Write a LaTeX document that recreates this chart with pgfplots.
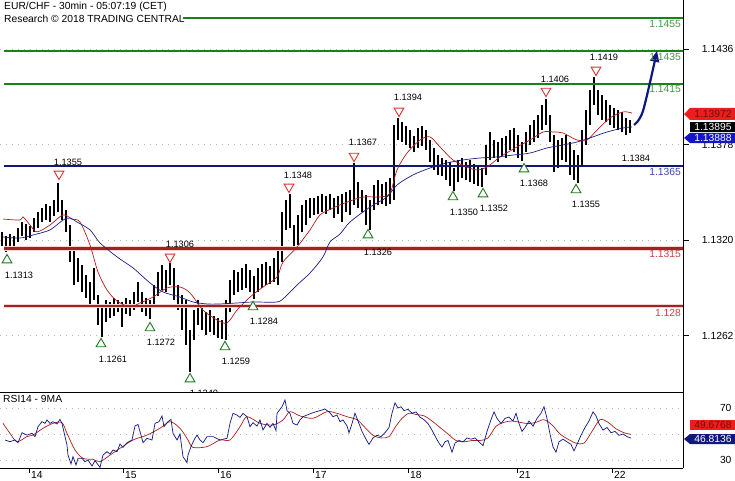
\documentclass[border=0pt]{standalone}
\usepackage{fontspec}
\setmainfont{Liberation Sans}
\usepackage{pgfplots}
\usepackage{pgfplotstable}
\pgfplotsset{compat=1.18}
\usetikzlibrary{arrows.meta}
\definecolor{grn}{RGB}{24,130,24}
\definecolor{grnlbl}{RGB}{70,150,70}
\definecolor{nvy}{RGB}{16,24,128}
\definecolor{nvylbl}{RGB}{60,70,175}
\definecolor{dred}{RGB}{160,35,35}
\definecolor{pinkh}{RGB}{247,212,212}
\definecolor{redlbl}{RGB}{200,70,70}
\definecolor{mared}{RGB}{175,30,30}
\definecolor{mablue}{RGB}{30,30,130}
\definecolor{trir}{RGB}{215,50,50}
\definecolor{trig}{RGB}{30,120,30}
\definecolor{tagred}{RGB}{235,30,30}
\definecolor{tagtxt}{RGB}{120,10,10}
\definecolor{tagblue}{RGB}{20,20,200}
\newcommand{\fa}{\fontsize{10.3}{12}\selectfont}
\newcommand{\fb}{\fontsize{9.2}{11}\selectfont}

\pgfplotstableread{
x h l
2 1.13250 1.13164
6 1.13225 1.13128
10 1.13237 1.13164
14 1.13225 1.13152
18 1.13274 1.13189
22 1.13310 1.13225
26 1.13298 1.13201
30 1.13286 1.13213
34 1.13334 1.13250
38 1.13371 1.13274
42 1.13395 1.13310
46 1.13420 1.13322
50 1.13407 1.13310
54 1.13444 1.13347
58 1.13550 1.13371
62 1.13444 1.13322
66 1.13383 1.13250
70 1.13292 1.13067
74 1.13140 1.12927
78 1.13091 1.12946
82 1.13049 1.12885
86 1.12988 1.12848
90 1.12946 1.12806
94 1.13031 1.12836
98 1.12867 1.12684
102 1.12806 1.12610
106 1.12836 1.12703
110 1.12824 1.12727
114 1.12848 1.12739
118 1.12836 1.12763
122 1.12824 1.12672
126 1.12848 1.12751
130 1.12836 1.12739
134 1.12885 1.12775
138 1.12946 1.12824
142 1.12885 1.12763
146 1.12848 1.12739
150 1.12836 1.12720
154 1.12927 1.12806
158 1.13006 1.12861
162 1.13049 1.12897
166 1.13018 1.12885
170 1.13060 1.12927
174 1.13031 1.12836
178 1.12927 1.12775
182 1.12867 1.12654
186 1.12836 1.12563
190 1.12654 1.12400
194 1.12775 1.12593
198 1.12836 1.12684
202 1.12806 1.12654
206 1.12763 1.12624
210 1.12775 1.12642
214 1.12739 1.12624
218 1.12727 1.12605
222 1.12715 1.12600
226 1.12836 1.12590
230 1.12958 1.12763
234 1.13018 1.12867
238 1.13006 1.12885
242 1.13031 1.12897
246 1.13055 1.12909
250 1.13018 1.12885
254 1.12982 1.12840
258 1.13031 1.12885
262 1.13055 1.12909
266 1.13067 1.12927
270 1.13043 1.12934
274 1.13091 1.12946
278 1.13140 1.12927
282 1.13371 1.13067
286 1.13444 1.13262
290 1.13480 1.13274
294 1.13292 1.13140
298 1.13353 1.13170
302 1.13413 1.13250
306 1.13444 1.13292
310 1.13456 1.13334
314 1.13456 1.13353
318 1.13468 1.13359
322 1.13480 1.13371
326 1.13468 1.13359
330 1.13480 1.13383
334 1.13456 1.13334
338 1.13468 1.13359
342 1.13480 1.13310
346 1.13492 1.13371
350 1.13505 1.13353
354 1.13670 1.13413
358 1.13553 1.13395
362 1.13505 1.13371
366 1.13474 1.13292
370 1.13444 1.13260
374 1.13535 1.13383
378 1.13565 1.13413
382 1.13541 1.13420
386 1.13553 1.13407
390 1.13578 1.13420
394 1.13900 1.13444
398 1.13940 1.13808
402 1.13918 1.13796
406 1.13893 1.13778
410 1.13869 1.13760
414 1.13833 1.13735
418 1.13881 1.13760
422 1.13893 1.13772
426 1.13869 1.13748
430 1.13808 1.13675
434 1.13760 1.13626
438 1.13717 1.13596
442 1.13699 1.13590
446 1.13687 1.13565
450 1.13675 1.13529
454 1.13638 1.13500
458 1.13687 1.13553
462 1.13699 1.13578
466 1.13675 1.13565
470 1.13687 1.13553
474 1.13663 1.13541
478 1.13650 1.13529
482 1.13638 1.13520
486 1.13778 1.13596
490 1.13857 1.13687
494 1.13808 1.13699
498 1.13796 1.13675
502 1.13821 1.13711
506 1.13833 1.13699
510 1.13869 1.13748
514 1.13881 1.13735
518 1.13839 1.13699
522 1.13796 1.13680
526 1.13857 1.13735
530 1.13900 1.13778
534 1.13930 1.13796
538 1.13960 1.13821
542 1.14021 1.13869
546 1.14060 1.13900
550 1.13960 1.13796
554 1.13839 1.13614
558 1.13808 1.13638
562 1.13821 1.13687
566 1.13839 1.13675
570 1.13796 1.13596
574 1.13748 1.13565
578 1.13717 1.13550
582 1.13869 1.13656
586 1.13991 1.13778
590 1.14112 1.13900
594 1.14190 1.14021
598 1.14112 1.13960
602 1.14082 1.13930
606 1.14051 1.13918
610 1.14021 1.13900
614 1.14003 1.13881
618 1.13991 1.13869
622 1.13979 1.13857
626 1.13942 1.13839
630 1.13930 1.13851
}\candles

\pgfplotstableread{
x y
3 1.13328
20 1.13322
23 1.13341
30 1.13292
37 1.13250
50 1.13292
63 1.13353
72 1.13328
80 1.13310
90 1.13170
98 1.13006
107 1.12897
117 1.12830
130 1.12794
140 1.12818
153 1.12854
167 1.12909
180 1.12915
190 1.12879
203 1.12775
217 1.12715
227 1.12696
237 1.12775
250 1.12854
263 1.12915
277 1.12976
283 1.13067
297 1.13158
310 1.13262
320 1.13353
333 1.13395
345 1.13426
363 1.13462
380 1.13462
390 1.13486
397 1.13626
407 1.13729
420 1.13808
430 1.13827
440 1.13766
453 1.13687
467 1.13644
477 1.13626
487 1.13644
500 1.13705
517 1.13766
530 1.13808
543 1.13857
553 1.13857
563 1.13851
577 1.13808
587 1.13808
597 1.13869
610 1.13942
623 1.13979
632 1.13972
}\mared

\pgfplotstableread{
x y
3 1.13219
20 1.13213
33 1.13231
50 1.13262
63 1.13322
70 1.13334
77 1.13310
90 1.13262
100 1.13183
117 1.13098
133 1.13031
150 1.12940
163 1.12885
180 1.12854
193 1.12824
207 1.12812
220 1.12812
237 1.12818
253 1.12824
277 1.12824
285 1.12854
297 1.12927
310 1.13000
323 1.13098
330 1.13189
340 1.13237
350 1.13310
370 1.13401
387 1.13462
397 1.13535
413 1.13596
430 1.13638
447 1.13669
463 1.13687
480 1.13699
497 1.13705
513 1.13717
530 1.13729
547 1.13760
563 1.13778
577 1.13796
590 1.13821
607 1.13857
623 1.13881
632 1.13888
}\mablue

\pgfplotstableread{
x y
5 45.4
10 44.1
15 45.4
18 43.3
22 51.0
27 49.2
32 50.5
35 48.0
38 55.6
42 59.5
45 58.2
47 60.8
50 58.2
53 59.5
57 57.7
60 61.3
62 58.2
65 48.0
67 41.5
68 33.8
71 27.0
73 32.6
76 26.2
78 31.3
82 31.3
85 28.7
88 30.0
92 25.4
95 29.5
100 24.3
103 33.8
107 36.4
110 34.6
113 37.7
117 36.4
120 42.3
123 39.7
127 43.3
132 45.4
135 56.2
138 57.4
141 49.2
143 43.3
147 46.7
152 45.4
155 58.2
159 59.5
162 63.9
164 55.6
168 59.5
171 61.3
173 50.5
177 45.4
180 50.0
183 32.6
187 27.9
188 33.8
191 40.3
194 45.4
197 49.2
200 45.4
203 43.3
207 48.0
213 48.0
220 45.4
227 46.7
230 58.2
233 65.9
237 64.6
240 62.8
243 65.9
247 63.3
250 55.6
253 58.7
257 56.1
260 60.8
263 53.1
267 58.2
270 55.1
273 58.2
276 52.6
277 65.9
282 71.0
285 76.2
287 68.0
290 65.9
293 58.2
297 56.9
300 60.8
303 63.3
307 64.6
313 66.4
320 68.0
325 69.2
330 66.4
333 63.3
337 64.6
340 59.5
343 60.8
347 56.2
349 51.0
352 58
355 66
358 60
362 52
366 46
369 42
373 47
377 49
381 48
385 51
389 55
392 66
395 74
398 70
401 71
404 68
408 69
412 66
416 67
420 63
424 61
428 58
432 53
436 47
439 43
442 40
445 44
448 45
452 36
455 43
459 45
463 44
467 47
471 46
475 47
479 44
483 41
487 52
491 61
494 67
497 62
501 58
505 62
509 63
513 60
516 66
519 58
522 52
525 55
529 60
533 56
537 62
541 66
544 71
547 62
550 50
553 40
556 36
559 44
563 46
567 44
571 42
574 37
577 42
581 49
585 55
589 60
593 67
596 64
599 58
603 53
607 55
611 51
615 52
619 49
623 50
627 48
631 46.8
}\rsi

\pgfplotstableread{
x y
3 58.2
10 50.5
17 44.1
27 48.0
33 49.2
43 54.4
53 58.2
62 58.7
67 50.5
75 37.7
83 31.3
93 30.5
100 28.7
110 33.8
120 39.0
133 45.4
147 49.2
160 54.4
170 59.5
180 54.4
188 45.4
193 39.7
207 40.3
220 45.4
230 45.4
240 55.6
247 63.3
260 58.2
273 56.9
283 60.8
290 67.2
300 63.9
313 62.1
327 67.2
337 65.9
347 63.3
357 61
365 55
373 49
381 47
389 48
395 55
402 62
409 66
416 65
424 64
432 60
440 55
448 50
456 45
464 44
472 45
480 45
488 47
496 56
504 59
512 60
520 59
528 58
536 59
544 61
552 57
560 50
568 46
576 43
584 43
592 52
600 61
608 59
616 54
624 51
631 49.7
}\rsima

\begin{document}
\begin{tikzpicture}
% ---------------- main price panel ----------------
\begin{axis}[
  name=main, anchor=south west, scale only axis,
  width=683pt, height=392pt,
  xmin=0, xmax=683, ymin=1.12277, ymax=1.14659,
  axis x line*=bottom, axis y line*=right,
  axis line style={black, line width=0.8pt},
  xtick=\empty,
  ytick={1.1262,1.1320,1.1378,1.1436},
  yticklabels={1.1262,1.1320,1.1378,1.1436},
  ymajorgrids, grid style={gray!55, line width=0.6pt, dash pattern=on 0.8pt off 5.2pt},
  tick align=outside, major tick length=6pt,
  ytick style={black, line width=0.8pt},
  yticklabel style={font=\fa, anchor=east, xshift=48pt},
  clip=false,
]
% candles
\addplot[draw=none, mark=none, forget plot,
  error bars/.cd, y dir=plus, y explicit, error mark=none,
  error bar style={draw=black, line width=2.3pt}]
  table[x=x, y=l, y error expr=\thisrow{h}-\thisrow{l}] {\candles};
% support / resistance lines
\addplot[grn, line width=2.4pt] coordinates {(183,1.1455) (683,1.1455)};
\addplot[grn, line width=2.4pt] coordinates {(4,1.1435) (683,1.1435)};
\addplot[grn, line width=2.4pt] coordinates {(4,1.1415) (683,1.1415)};
\addplot[nvy, line width=2.4pt] coordinates {(4,1.1365) (683,1.1365)};
\addplot[pinkh, line width=4.6pt] coordinates {(4,1.1315) (683,1.1315)};
\addplot[dred, line width=2.4pt] coordinates {(4,1.1315) (683,1.1315)};
\addplot[pinkh, line width=4.6pt] coordinates {(4,1.1280) (683,1.1280)};
\addplot[dred, line width=2.4pt] coordinates {(4,1.1280) (683,1.1280)};
% moving averages
\addplot[mared, line width=0.7pt, smooth] table[x=x,y=y] {\mared};
\addplot[mablue, line width=0.7pt, smooth] table[x=x,y=y] {\mablue};
% forecast arrow
\addplot[nvy, line width=2.2pt, smooth, -{Triangle[length=11pt,width=9pt]}]
  coordinates {(634,1.13900) (643,1.13985) (657,1.14350)};
% turning-point markers
\addplot[only marks, mark=triangle*, mark size=5.6pt,
  mark options={rotate=180, draw=trir, fill=white, line width=0.9pt}]
  coordinates {(59,1.13602) (170,1.13098) (289,1.13523) (354,1.13711)
               (399,1.13985) (546,1.14106) (596,1.14234)};
\addplot[only marks, mark=triangle*, mark size=5.6pt,
  mark options={draw=trig, fill=white, line width=0.9pt}]
  coordinates {(7,1.13079) (101,1.12569) (150,1.12666) (190,1.12356)
               (225,1.12551) (253,1.12794) (368,1.13231) (453,1.13462)
               (483,1.13480) (524,1.13632) (576,1.13505)};
% marker labels
\begin{scope}[every node/.style={font=\fb, text=black, inner sep=0pt}]
\node at (axis cs:68,1.13675) {1.1355};
\node at (axis cs:180,1.13176) {1.1306};
\node at (axis cs:298,1.13596) {1.1348};
\node at (axis cs:363,1.13796) {1.1367};
\node at (axis cs:408,1.14070) {1.1394};
\node at (axis cs:555,1.14179) {1.1406};
\node at (axis cs:604,1.14313) {1.1419};
\node at (axis cs:19,1.12988) {1.1313};
\node at (axis cs:113,1.12478) {1.1261};
\node at (axis cs:161,1.12581) {1.1272};
\node at (axis cs:204,1.12271) {1.1240};
\node at (axis cs:236,1.12466) {1.1259};
\node at (axis cs:264,1.12709) {1.1284};
\node at (axis cs:378,1.13128) {1.1326};
\node at (axis cs:464,1.13371) {1.1350};
\node at (axis cs:494,1.13395) {1.1352};
\node at (axis cs:534,1.13547) {1.1368};
\node at (axis cs:586,1.13420) {1.1355};
\node at (axis cs:636,1.13699) {1.1384};
\end{scope}
% level labels
\begin{scope}[every node/.style={font=\fa, anchor=east, inner sep=0pt}]
\node[text=grnlbl] at (axis cs:681,1.14513) {1.1455};
\node[text=grnlbl] at (axis cs:681,1.14313) {1.1435};
\node[text=grnlbl] at (axis cs:681,1.14118) {1.1415};
\node[text=nvylbl] at (axis cs:681,1.13614) {1.1365};
\node[text=redlbl] at (axis cs:681,1.13116) {1.1315};
\node[text=redlbl] at (axis cs:681,1.12757) {1.128};
\end{scope}
% title
\node[font=\fa, anchor=west, inner sep=0pt] at (axis cs:4,1.14616) {EUR/CHF - 30min - 05:07:19 (CET)};
\node[font=\fa, anchor=west, inner sep=0pt] at (axis cs:4,1.14544) {Research © 2018 TRADING CENTRAL};
% value tags
\fill[tagred] (axis cs:684,1.13966) -- (axis cs:690,1.14003) -- (axis cs:735,1.14003)
  -- (axis cs:735,1.13930) -- (axis cs:690,1.13930) -- cycle;
\node[font=\fa, text=tagtxt, inner sep=0pt] at (axis cs:713,1.13966) {1.13972};
\fill[black] (axis cs:690,1.13918) rectangle (axis cs:735,1.13857);
\node[font=\fa, text=white, inner sep=0pt] at (axis cs:713,1.13887) {1.13895};
\fill[tagblue] (axis cs:684,1.13821) -- (axis cs:690,1.13851) -- (axis cs:735,1.13851)
  -- (axis cs:735,1.13790) -- (axis cs:690,1.13790) -- cycle;
\node[font=\fa, text=white, inner sep=0pt] at (axis cs:713,1.13821) {1.13888};
\end{axis}
% ---------------- RSI panel ----------------
\begin{axis}[
  name=rsi, at={(main.south west)}, anchor=north west, scale only axis,
  width=683pt, height=76pt,
  xmin=0, xmax=683, ymin=23.85, ymax=82.31,
  axis x line*=bottom, axis y line*=right,
  axis line style={black, line width=0.8pt},
  axis background/.style={fill=white},
  xtick={29,123,218,313,408,517,612},
  xticklabels={14,15,16,17,18,21,22},
  ytick={30,50,70}, yticklabels={30,,70},
  ymajorgrids, grid style={gray!55, line width=0.6pt, dash pattern=on 0.8pt off 5.2pt},
  tick align=outside, major tick length=5pt,
  xtick style={black, line width=0.8pt},
  ytick style={draw=none},
  xticklabel style={font=\fa, anchor=north west, inner sep=0pt, xshift=2pt, yshift=2pt},
  yticklabel style={font=\fa, anchor=east, xshift=47pt},
  clip=false,
]
\addplot[mared, line width=0.7pt, smooth] table[x=x,y=y] {\rsima};
\addplot[nvy, line width=0.7pt] table[x=x,y=y] {\rsi};
\node[font=\fa, anchor=west, inner sep=0pt] at (axis cs:3,76.9) {RSI14 - 9MA};
\fill[tagred] (axis cs:690,60.77) rectangle (axis cs:735,53.08);
\node[font=\fa, text=tagtxt, inner sep=0pt] at (axis cs:713,56.9) {49.6768};
\fill[nvy] (axis cs:684,46.15) -- (axis cs:690,50.0) -- (axis cs:735,50.0)
  -- (axis cs:735,42.31) -- (axis cs:690,42.31) -- cycle;
\node[font=\fa, text=white, inner sep=0pt] at (axis cs:713,46.15) {46.8136};
\draw[black, line width=0.8pt] (axis cs:0,82.31) -- (axis cs:683,82.31);
\coordinate (bbll) at (axis cs:0,23.85);
\end{axis}
\pgfresetboundingbox
\path[use as bounding box] (bbll) ++(0pt,-12pt) rectangle ++(735pt,480pt);
\end{tikzpicture}
\end{document}
